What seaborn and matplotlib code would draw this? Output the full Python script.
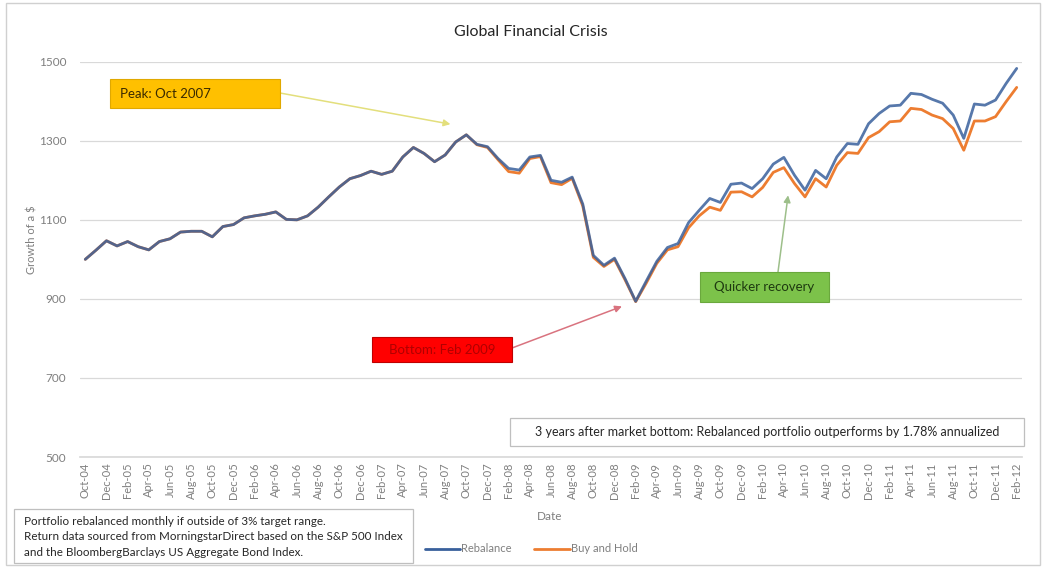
import numpy as np
import pandas as pd
import matplotlib
matplotlib.use("Agg")
import matplotlib.pyplot as plt
import seaborn as sns
from matplotlib.patches import Rectangle

# ---------------- data ----------------
months = pd.date_range("2004-10-01", periods=89, freq="MS").strftime("%b-%y").tolist()

rebalance = [1000, 1023, 1047, 1034, 1045, 1032, 1024, 1045, 1052, 1069,
             1071, 1071, 1057, 1083, 1088, 1105, 1110, 1114, 1120, 1101,
             1100, 1110, 1132, 1158, 1183, 1204, 1212, 1223, 1215, 1223,
             1259, 1283, 1268, 1247, 1264, 1297, 1315, 1291, 1285, 1255,
             1230, 1226, 1259, 1263, 1200, 1195, 1208, 1140, 1010, 985,
             1003, 951, 894, 945, 995, 1030, 1040, 1093, 1124, 1154,
             1144, 1190, 1193, 1179, 1204, 1241, 1258, 1213, 1175, 1225,
             1204, 1259, 1293, 1291, 1343, 1369, 1388, 1390, 1420, 1417,
             1405, 1395, 1365, 1306, 1393, 1390, 1403, 1445, 1483]

buy_hold = [1000, 1023, 1047, 1034, 1045, 1032, 1024, 1045, 1052, 1069,
            1071, 1071, 1057, 1083, 1088, 1105, 1110, 1114, 1120, 1101,
            1100, 1110, 1132, 1158, 1183, 1204, 1212, 1223, 1215, 1223,
            1259, 1283, 1268, 1247, 1264, 1297, 1315, 1290, 1283, 1252,
            1222, 1218, 1255, 1260, 1194, 1189, 1205, 1135, 1005, 982,
            1000, 948, 893, 940, 990, 1024, 1032, 1080, 1110, 1132,
            1124, 1170, 1171, 1158, 1182, 1220, 1232, 1192, 1158, 1204,
            1183, 1238, 1270, 1268, 1308, 1323, 1348, 1350, 1382, 1379,
            1365, 1356, 1331, 1276, 1350, 1350, 1361, 1399, 1435]

yticks = [500, 700, 900, 1100, 1300, 1500]
series_names = ["Rebalance", "Buy and Hold"]
colors = {"Rebalance": "#39609c", "Buy and Hold": "#ed7d31"}

# ---------------- figure ----------------
sns.set_theme(style="white")
plt.rcParams["font.family"] = ["Lato", "DejaVu Sans"]

W, H = 1045, 567
fig = plt.figure(figsize=(W / 100, H / 100), dpi=100)
fig.patch.set_facecolor("white")


def fx(px):
    return px / W


def fy(py):
    return 1 - py / H


# outer chart border
fig.patches.append(Rectangle((fx(6), fy(565)), fx(1040) - fx(6), fy(3) - fy(565),
                             transform=fig.transFigure, fill=False,
                             edgecolor="#d0d0d0", linewidth=1.0))

ax = fig.add_axes([fx(80), fy(457), fx(1022) - fx(80), fy(61.7) - fy(457)])

n = len(months)
idx = np.arange(n)
df_bh = pd.DataFrame({"idx": idx, "value": buy_hold})
df_rb = pd.DataFrame({"idx": idx, "value": rebalance})

sns.lineplot(data=df_bh, x="idx", y="value", ax=ax, color=colors["Buy and Hold"],
             linewidth=2.0, label="Buy and Hold", zorder=3)
sns.lineplot(data=df_rb, x="idx", y="value", ax=ax, color=colors["Rebalance"],
             linewidth=2.0, alpha=0.85, label="Rebalance", zorder=4)

ax.set_xlim(-0.5, n - 0.5)
ax.set_ylim(500, 1500)
ax.set_yticks(yticks)
ax.set_yticklabels([str(v) for v in yticks], fontsize=8.5, color="#7f7f7f")
ax.yaxis.grid(True, color="#d9d9d9", linewidth=0.9)
ax.xaxis.grid(False)
ax.set_xticks(idx[::2])
ax.set_xticklabels(months[::2], rotation=90, fontsize=8, color="#7f7f7f")
ax.tick_params(axis="x", length=0, pad=4)
ax.tick_params(axis="y", length=0, pad=10)
for s in ["top", "right", "left"]:
    ax.spines[s].set_visible(False)
ax.spines["bottom"].set_color("#d9d9d9")
ax.set_xlabel("")
ax.set_ylabel("")

# legend
handles, labels = ax.get_legend_handles_labels()
order = [labels.index(s) for s in series_names]
leg = ax.legend([handles[i] for i in order], [labels[i] for i in order],
                loc="center", bbox_to_anchor=(fx(531), fy(549)),
                bbox_transform=fig.transFigure, ncol=2, frameon=False,
                fontsize=8, handlelength=3.2, handletextpad=0.1, columnspacing=2.0,
                labelcolor="#7f7f7f")
for lh in leg.get_lines():
    lh.set_alpha(1.0)

# titles / axis labels
fig.text(fx(531), fy(32), "Global Financial Crisis", ha="center", va="center",
         fontsize=11.5, color="#262626")
fig.text(fx(32), fy(240), "Growth of a $", ha="center", va="center",
         rotation=90, fontsize=8, color="#7f7f7f")
fig.text(fx(550), fy(516), "Date", ha="center", va="center",
         fontsize=8.5, color="#7f7f7f")

# footnote box
fig.patches.append(Rectangle((fx(14), fy(563)), fx(413) - fx(14), fy(509) - fy(563),
                             transform=fig.transFigure, fill=True, facecolor="white",
                             edgecolor="#bfbfbf", linewidth=0.9))
fig.text(fx(24), fy(537),
         "Portfolio rebalanced monthly if outside of 3% target range.\n"
         "Return data sourced from MorningstarDirect based on the S&P 500 Index\n"
         "and the BloombergBarclays US Aggregate Bond Index.",
         ha="left", va="center", fontsize=8.4, color="#262626", linespacing=1.45)

# outperformance box
fig.patches.append(Rectangle((fx(510), fy(446)), fx(1024) - fx(510), fy(418) - fy(446),
                             transform=fig.transFigure, fill=True, facecolor="white",
                             edgecolor="#bfbfbf", linewidth=0.9, zorder=5))
fig.text(fx(767), fy(432),
         "3 years after market bottom: Rebalanced portfolio outperforms by 1.78% annualized",
         ha="center", va="center", fontsize=9, color="#262626", zorder=6)

# peak annotation
fig.patches.append(Rectangle((fx(110), fy(108)), fx(280) - fx(110), fy(79) - fy(108),
                             transform=fig.transFigure, facecolor="#ffc000",
                             edgecolor="#e0a800", linewidth=0.8, zorder=5))
fig.text(fx(120), fy(93.5), "Peak: Oct 2007", ha="left", va="center",
         fontsize=9.5, color="#3a2a00", zorder=6)
ax.annotate("", xy=(34.5, 1342), xycoords="data",
            xytext=(fx(280), fy(93)), textcoords="figure fraction",
            arrowprops=dict(arrowstyle="-|>", color="#e3df7c", lw=1.1,
                            mutation_scale=10, shrinkA=0, shrinkB=0), zorder=6)

# bottom annotation
fig.patches.append(Rectangle((fx(372), fy(362)), fx(512) - fx(372), fy(337) - fy(362),
                             transform=fig.transFigure, facecolor="#ff0000",
                             edgecolor="#c00000", linewidth=0.8, zorder=5))
fig.text(fx(442), fy(349.5), "Bottom: Feb 2009", ha="center", va="center",
         fontsize=9.5, color="#b00000", zorder=6)
ax.annotate("", xy=(50.7, 881), xycoords="data",
            xytext=(fx(512), fy(348)), textcoords="figure fraction",
            arrowprops=dict(arrowstyle="-|>", color="#d9737f", lw=1.1,
                            mutation_scale=10, shrinkA=0, shrinkB=0), zorder=6)

# recovery annotation
fig.patches.append(Rectangle((fx(700), fy(302)), fx(829) - fx(700), fy(272) - fy(302),
                             transform=fig.transFigure, facecolor="#7cc24a",
                             edgecolor="#6aa83d", linewidth=0.8, zorder=5))
fig.text(fx(764.5), fy(287), "Quicker recovery", ha="center", va="center",
         fontsize=9.5, color="#1e3a10", zorder=6)
ax.annotate("", xy=(66.4, 1162), xycoords="data",
            xytext=(fx(778), fy(272)), textcoords="figure fraction",
            arrowprops=dict(arrowstyle="-|>", color="#9dbf8a", lw=1.1,
                            mutation_scale=10, shrinkA=0, shrinkB=0), zorder=6)

fig.savefig("out.png", dpi=100, facecolor="white")
